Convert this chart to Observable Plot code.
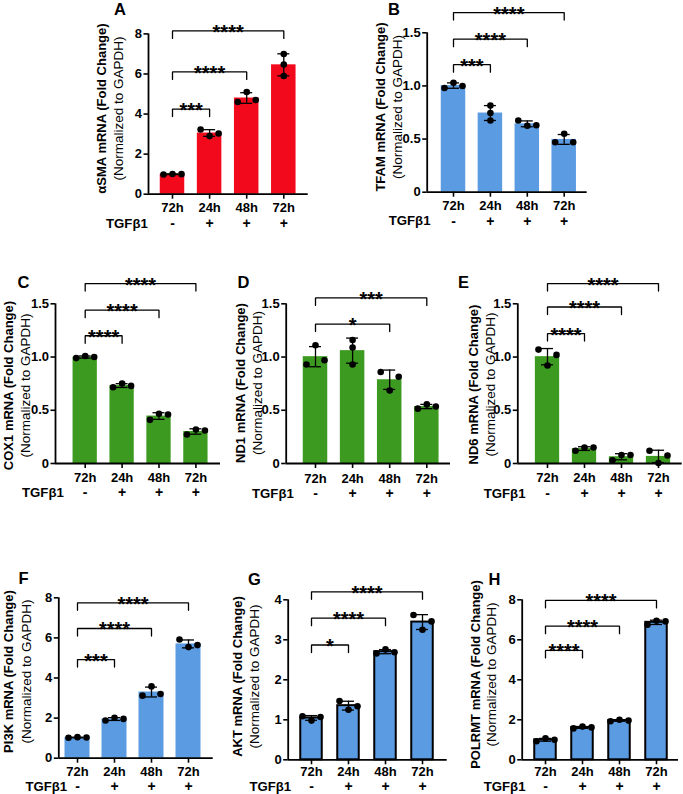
<!DOCTYPE html>
<html>
<head>
<meta charset="utf-8">
<script src="https://cdn.jsdelivr.net/npm/d3@7"></script>
<script src="https://cdn.jsdelivr.net/npm/@observablehq/plot@0.6"></script>
<style>
  html, body { margin: 0; padding: 0; background: #fff; overflow: hidden; }
  #figure { position: relative; width: 683px; height: 794px; }
  #figure svg { position: absolute; left: 0; top: 0; }
</style>
</head>
<body>
<div id="figure"></div>
<script>
// ---- categories ----
const timeLabels = ["72h", "24h", "48h", "72h"];
const tgfSigns = ["-", "+", "+", "+"];

// ---- replicate values (fold change, three replicates per condition) ----
const asmaReps   = [[0.98, 1.01, 1.0], [3.23, 2.9, 3.03], [4.6, 5.1, 4.7], [6.47, 7.0, 5.9]];
const tfamReps   = [[0.98, 1.03, 1.0], [0.815, 0.745, 0.675], [0.675, 0.625, 0.63], [0.47, 0.55, 0.47]];
const cox1Reps   = [[0.99, 1.01, 1.0], [0.716, 0.751, 0.729], [0.41, 0.467, 0.46], [0.272, 0.32, 0.31]];
const nd1Reps    = [[1.11, 0.93, 0.97], [1.16, 1.09, 0.93], [0.685, 0.86, 0.815], [0.515, 0.555, 0.535]];
const nd6Reps    = [[0.92, 1.07, 1.02], [0.12, 0.15, 0.15], [0.03, 0.08, 0.08], [0.12, 0.005, 0.075]];
const pi3kReps   = [[1.02, 1.05, 1.03], [1.88, 2.02, 1.96], [3.12, 3.58, 3.2], [5.92, 5.54, 5.64]];
const aktReps    = [[1.09, 0.98, 1.07], [1.47, 1.25, 1.34], [2.66, 2.76, 2.69], [3.62, 3.25, 3.46]];
const polrmtReps = [[0.93, 1.07, 1.0], [1.57, 1.66, 1.62], [1.93, 2.0, 1.96], [6.75, 6.95, 6.92]];

// ---- significance comparisons: [from, to, bracket level, stars] ----
const asmaSig   = [[0, 1, 4.25, "***"], [0, 2, 6.1, "****"], [0, 3, 8.15, "****"]];
const tfamSig   = [[0, 1, 1.2, "***"], [0, 2, 1.44, "****"], [0, 3, 1.69, "****"]];
const cox1Sig   = [[0, 1, 1.2, "****"], [0, 2, 1.44, "****"], [0, 3, 1.69, "****"]];
const nd1Sig    = [[0, 2, 1.31, "*"], [0, 3, 1.555, "***"]];
const nd6Sig    = [[0, 1, 1.22, "****"], [0, 2, 1.47, "****"], [0, 3, 1.69, "****"]];
const pi3kSig   = [[0, 1, 4.92, "***"], [0, 2, 6.47, "****"], [0, 3, 7.75, "****"]];
const aktSig    = [[0, 1, 2.87, "*"], [0, 2, 3.54, "****"], [0, 3, 4.2, "****"]];
const polrmtSig = [[0, 1, 5.47, "****"], [0, 2, 6.68, "****"], [0, 3, 7.97, "****"]];

// ---- y-axis ticks ----
const ticks8   = [0, 2, 4, 6, 8];
const ticks1_5 = [0, 0.5, 1, 1.5];
const ticks4   = [0, 1, 2, 3, 4];

const RED = "#f2091c", BLUE = "#5b9be2", GREEN = "#3d9a20";
const W = 683, H = 794;
const FONT = "'Liberation Sans', Arial, Helvetica, sans-serif";

// Panel geometry in page pixels
const panels = [
  {letter: "A", title: "αSMA mRNA (Fold Change)", reps: asmaReps, sig: asmaSig, color: RED, yMax: 8, yTicks: ticks8, dec: false,
   ax: 148, xe: 307.7, c1: 172, step: 37.1, y0: 193.7, yTop: 33.4, barW: 24.5, outline: false,
   lx: 119.5, ly: 9.4, t1x: 101.7, t2x: 118.3, ty: 108, tgfX: 147.3, xPad: 3.2, signDy: 29.6},
  {letter: "B", title: "TFAM mRNA (Fold Change)", reps: tfamReps, sig: tfamSig, color: BLUE, yMax: 1.5, yTicks: ticks1_5, dec: true,
   ax: 426.7, xe: 586.7, c1: 453, step: 36.9, y0: 191.7, yTop: 32.3, barW: 24.5, outline: false,
   lx: 393.5, ly: 9.4, t1x: 380, t2x: 396.7, ty: 106.5, tgfX: 430, xPad: 3.5, signDy: 29},
  {letter: "C", title: "COX1 mRNA (Fold Change)", reps: cox1Reps, sig: cox1Sig, color: GREEN, yMax: 1.5, yTicks: ticks1_5, dec: true,
   ax: 55, xe: 220, c1: 84.7, step: 36.9, y0: 463, yTop: 303.3, barW: 24.3, outline: false,
   lx: 23, ly: 282, t1x: 8.5, t2x: 25.3, ty: 385, tgfX: 63.3, xPad: 4, signDy: 29.5},
  {letter: "D", title: "ND1 mRNA (Fold Change)", reps: nd1Reps, sig: nd1Sig, color: GREEN, yMax: 1.5, yTicks: ticks1_5, dec: true,
   ax: 285.7, xe: 450, c1: 315, step: 37.1, y0: 463, yTop: 303.3, barW: 24.5, outline: false,
   lx: 243, ly: 282, t1x: 240, t2x: 256.7, ty: 382.5, tgfX: 293.3, xPad: 5, signDy: 30.5},
  {letter: "E", title: "ND6 mRNA (Fold Change)", reps: nd6Reps, sig: nd6Sig, color: GREEN, yMax: 1.5, yTicks: ticks1_5, dec: true,
   ax: 517.3, xe: 681.7, c1: 547, step: 37, y0: 463, yTop: 303.3, barW: 24.3, outline: false,
   lx: 463, ly: 282, t1x: 473.3, t2x: 490, ty: 384, tgfX: 525, xPad: 4.2, signDy: 30.3},
  {letter: "F", title: "PI3K mRNA (Fold Change)", reps: pi3kReps, sig: pi3kSig, color: BLUE, yMax: 8, yTicks: ticks8, dec: false,
   ax: 58.3, xe: 212.7, c1: 77, step: 37, y0: 757.7, yTop: 597.3, barW: 25, outline: false,
   lx: 23, ly: 578, t1x: 8.3, t2x: 26, ty: 671, tgfX: 66.7, xPad: 3.4, signDy: 28.7},
  {letter: "G", title: "AKT mRNA (Fold Change)", reps: aktReps, sig: aktSig, color: BLUE, yMax: 4, yTicks: ticks4, dec: false,
   ax: 287.7, xe: 446.7, c1: 311, step: 37, y0: 759.3, yTop: 599.3, barW: 21.5, outline: true,
   lx: 254, ly: 579, t1x: 237.7, t2x: 254.3, ty: 676, tgfX: 290.7, xPad: 1.8, signDy: 27.2},
  {letter: "H", title: "POLRMT mRNA (Fold Change)", reps: polrmtReps, sig: polrmtSig, color: BLUE, yMax: 8, yTicks: ticks8, dec: false,
   ax: 521.7, xe: 678, c1: 545, step: 37, y0: 759.3, yTop: 599.3, barW: 21.5, outline: true,
   lx: 494, ly: 579, t1x: 475, t2x: 491.3, ty: 674, tgfX: 525, xPad: 1.8, signDy: 27.2}
];

// Spread replicate dots sideways where they would overlap (slot -1, 0, +1)
function spread(values, pxPerUnit) {
  const order = d3.range(values.length).sort((a, b) => values[a] - values[b]);
  const groups = [];
  let cur = [order[0]];
  for (let k = 1; k < order.length; ++k) {
    if ((values[order[k]] - values[order[k - 1]]) * pxPerUnit < 7) cur.push(order[k]);
    else { groups.push(cur); cur = [order[k]]; }
  }
  groups.push(cur);
  const slot = new Array(values.length).fill(0);
  for (const g of groups) {
    g.sort((a, b) => a - b);
    const m = g.length;
    const offs = m === 1 ? [0] : m === 2 ? [-1, 1] : d3.range(m).map(k => k - (m - 1) / 2);
    g.forEach((id, k) => slot[id] = offs[k]);
  }
  return slot;
}

function drawPanel(p) {
  const k = (p.y0 - p.yTop) / p.yMax;           // pixels per unit
  const bars = p.reps.map((r, i) => ({i, mean: d3.mean(r), sd: d3.deviation(r)}));
  const pts = p.reps.flatMap((r, i) => {
    const s = spread(r, k);
    return r.map((v, j) => ({i, v, s: s[j]}));
  });
  const lo = (p.ax - p.c1) / p.step, hi = (p.xe - p.c1) / p.step;
  const hw = p.barW / 2 / p.step, capW = 6 / p.step, slotW = 9 / p.step, drop = 7.5 / k;
  const brackets = p.sig.flatMap(([a, b, h], id) => [
    {id, x: a, y: h - drop}, {id, x: a, y: h}, {id, x: b, y: h}, {id, x: b, y: h - drop}
  ]);
  const midY = (p.yTop + p.y0) / 2;
  const fmt = d => d === 0 ? "0" : p.dec ? d.toFixed(1) : String(d);

  return Plot.plot({
    width: W, height: H,
    marginLeft: p.ax, marginRight: W - p.xe, marginTop: p.yTop, marginBottom: H - p.y0,
    x: {type: "linear", domain: [lo, hi]},
    y: {domain: [0, p.yMax]},
    style: {fontFamily: FONT, fontSize: "13px", fontWeight: "bold", background: "transparent", overflow: "visible", color: "#000"},
    marks: [
      Plot.rectY(bars, {x1: d => d.i - hw, x2: d => d.i + hw, y: "mean", fill: p.color,
        stroke: p.outline ? "#000" : "none", strokeWidth: 2}),
      Plot.ruleX(bars, {x: "i", y1: d => d.mean - d.sd, y2: d => d.mean + d.sd, stroke: "#000", strokeWidth: 1.3}),
      Plot.ruleY(bars, {y: d => d.mean + d.sd, x1: d => d.i - capW, x2: d => d.i + capW, stroke: "#000", strokeWidth: 1.3}),
      Plot.ruleY(bars, {y: d => d.mean - d.sd, x1: d => d.i - capW, x2: d => d.i + capW, stroke: "#000", strokeWidth: 1.3}),
      Plot.dot(pts, {x: d => d.i + d.s * slotW, y: "v", r: 3.3, fill: "#000", stroke: "none"}),
      Plot.line(brackets, {x: "x", y: "y", z: "id", stroke: "#000", strokeWidth: 1.3, strokeLinejoin: "miter"}),
      Plot.text(p.sig, {x: d => (d[0] + d[1]) / 2, y: d => d[2], text: d => d[3], lineAnchor: "bottom", dy: 8, fontSize: 20}),
      Plot.ruleY([0], {stroke: "#000", strokeWidth: 1.8}),
      Plot.ruleX([lo], {stroke: "#000", strokeWidth: 1.8}),
      Plot.axisY({ticks: p.yTicks, tickFormat: fmt, tickSize: 4.5, tickPadding: 2, strokeWidth: 1.6, fontSize: 13, label: null}),
      Plot.axisX({ticks: [0, 1, 2, 3], tickFormat: i => timeLabels[i], tickSize: 5, tickPadding: p.xPad, strokeWidth: 1.6, fontSize: 13, label: null}),
      Plot.text(tgfSigns, {x: (d, i) => i, text: d => d, frameAnchor: "bottom", dy: p.signDy, lineAnchor: "middle", fontSize: 14}),
      Plot.text(["TGFβ1"], {text: d => d, frameAnchor: "bottom-left", textAnchor: "end", lineAnchor: "middle",
        dx: p.tgfX - p.ax, dy: p.signDy, fontSize: 13.2}),
      Plot.text([p.title], {text: d => d, frameAnchor: "left", rotate: -90, textAnchor: "middle", lineAnchor: "middle",
        dx: p.t1x - p.ax, dy: p.ty - midY, fontSize: 13}),
      Plot.text(["(Normalized to GAPDH)"], {text: d => d, frameAnchor: "left", rotate: -90, textAnchor: "middle", lineAnchor: "middle",
        dx: p.t2x - p.ax, dy: p.ty - midY, fontSize: 13.5, fontWeight: "normal"}),
      Plot.text([p.letter], {text: d => d, frameAnchor: "top-left", textAnchor: "middle", lineAnchor: "middle",
        dx: p.lx - p.ax, dy: p.ly - p.yTop, fontSize: 16.5})
    ]
  });
}

const fig = document.getElementById("figure");
for (const p of panels) fig.appendChild(drawPanel(p));
</script>
</body>
</html>
